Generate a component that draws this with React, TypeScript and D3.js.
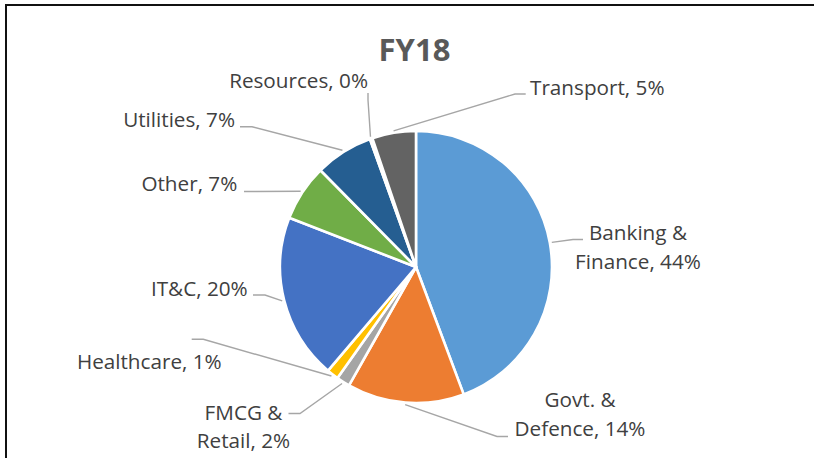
import React from "react";
import * as d3 from "d3";

const categories = [
  "Banking & Finance",
  "Govt. & Defence",
  "FMCG & Retail",
  "Healthcare",
  "IT&C",
  "Other",
  "Utilities",
  "Resources",
  "Transport",
];
const values = [44.3, 13.9, 1.6, 1.4, 19.7, 6.7, 6.9, 0.3, 5.2];
const colors = [
  "#5B9BD5",
  "#ED7D31",
  "#A5A5A5",
  "#FFC000",
  "#4472C4",
  "#70AD47",
  "#255E91",
  "#9E480E",
  "#636363",
];
const title = "FY18";

// label layout: text anchor point, baselines, anchor, leader attach & elbow
type Lay = {
  x: number;
  ys: number[];
  anchor: "start" | "middle" | "end";
  attach: [number, number];
  elbow: [number, number];
};
const layout: Lay[] = [
  { x: 638, ys: [239.5, 268.5], anchor: "middle", attach: [583, 239.5], elbow: [573, 239.5] },
  { x: 580, ys: [406.7, 435.7], anchor: "middle", attach: [508, 436.5], elbow: [497, 436.5] },
  { x: 243.5, ys: [419.8, 447.8], anchor: "middle", attach: [288.5, 413.5], elbow: [300, 413.5] },
  { x: 221.7, ys: [369], anchor: "end", attach: [191.7, 339.3], elbow: [203.3, 339.3] },
  { x: 247.7, ys: [296], anchor: "end", attach: [253, 295], elbow: [265, 295] },
  { x: 237.3, ys: [190.7], anchor: "end", attach: [244, 191.5], elbow: [256, 191.5] },
  { x: 235, ys: [127], anchor: "end", attach: [240, 126.7], elbow: [252, 126.7] },
  { x: 368, ys: [88], anchor: "end", attach: [368, 93], elbow: [368, 100] },
  { x: 530, ys: [95], anchor: "start", attach: [525.7, 94], elbow: [515, 94] },
];

const W = 814;
const H = 458;
const cx = 416;
const cy = 267;
const R = 136;

export default function App() {
  const total = d3.sum(values);
  const pct = d3.format(".0%");
  const pie = d3
    .pie<number>()
    .sort(null)
    .value((d) => d)
    .startAngle(0)
    .endAngle(2 * Math.PI);
  const arcs = pie(values);
  const arc = d3.arc<d3.PieArcDatum<number>>().innerRadius(0).outerRadius(R);

  const labelLines = (i: number): string[] => {
    const name = categories[i];
    const p = pct(values[i] / total);
    const idx = name.indexOf("& ");
    if (idx > 0 && name !== "IT&C") {
      return [name.slice(0, idx + 1), name.slice(idx + 2) + ", " + p];
    }
    return [name + ", " + p];
  };

  const line = d3.line();

  return (
    <svg
      width={W}
      height={H}
      style={{ position: "absolute", left: 0, top: 0, background: "#fff" }}
      fontFamily="'Open Sans', sans-serif"
    >
      <rect x={0} y={0} width={W} height={H} fill="#fff" />
      <rect x={6} y={5} width={W + 20} height={H + 20} fill="none" stroke="#111" strokeWidth={2} />
      <text
        x={414.5}
        y={60.7}
        textAnchor="middle"
        fontSize={31}
        fontWeight="bold"
        fill="#595959"
      >
        {title}
      </text>
      <g transform={`translate(${cx},${cy})`}>
        {arcs.map((a, i) => (
          <path key={i} d={arc(a) || ""} fill={colors[i]} stroke="#fff" strokeWidth={2.6} strokeLinejoin="round" />
        ))}
      </g>
      <g fill="none" stroke="#A6A6A6" strokeWidth={1.4}>
        {arcs.map((a, i) => {
          const mid = (a.startAngle + a.endAngle) / 2;
          const rr = R + 2;
          const p: [number, number] = [cx + rr * Math.sin(mid), cy - rr * Math.cos(mid)];
          const L = layout[i];
          return <path key={i} d={line([L.attach, L.elbow, p]) || ""} />;
        })}
      </g>
      <g fontSize={20.7} fill="#404040">
        {categories.map((c, i) => {
          const L = layout[i];
          const lines = labelLines(i);
          return (
            <text key={c} textAnchor={L.anchor}>
              {lines.map((t, j) => (
                <tspan key={j} x={L.x} y={L.ys[j]}>
                  {t}
                </tspan>
              ))}
            </text>
          );
        })}
      </g>
    </svg>
  );
}
